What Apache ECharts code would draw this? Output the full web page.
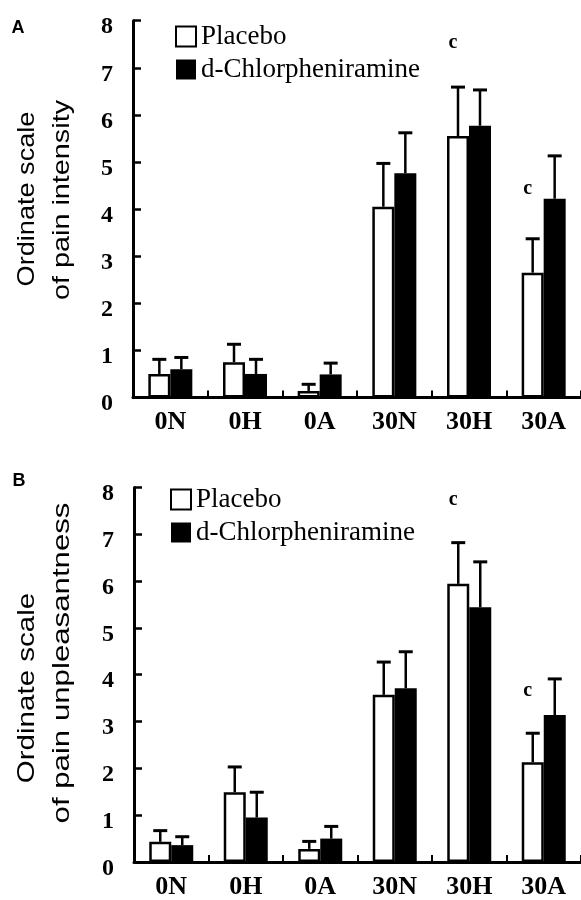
<!DOCTYPE html>
<html>
<head>
<meta charset="utf-8">
<script src="https://cdn.jsdelivr.net/npm/echarts@6/dist/echarts.min.js"></script>
<style>
html,body{margin:0;padding:0;background:#fff;}
#chart{width:581px;height:900px;}
</style>
</head>
<body>
<div id="chart"></div>
<script>
// ---- data ----
const categories = ['0N', '0H', '0A', '30N', '30H', '30A'];
const yTicks = [0, 1, 2, 3, 4, 5, 6, 7, 8];

// Panel A: pain intensity
const placeboA = [0.50, 0.75, 0.14, 4.05, 5.55, 2.65];
const placeboErrA = [0.31, 0.38, 0.14, 0.92, 1.04, 0.72];
const chlorA = [0.60, 0.50, 0.49, 4.76, 5.77, 4.22];
const chlorErrA = [0.25, 0.31, 0.24, 0.86, 0.76, 0.91];
const sigCatsA = ['30H', '30A'];
const sigValsA = [7.52, 4.42];

// Panel B: pain unpleasantness
const placeboB = [0.43, 1.49, 0.28, 3.57, 5.94, 2.13];
const placeboErrB = [0.24, 0.54, 0.16, 0.70, 0.88, 0.62];
const chlorB = [0.36, 0.95, 0.50, 3.71, 5.44, 3.14];
const chlorErrB = [0.18, 0.54, 0.26, 0.78, 0.97, 0.77];
const sigCatsB = ['30H', '30A'];
const sigValsB = [7.73, 3.66];

const seriesNames = ['Placebo', 'd-Chlorpheniramine'];
const sigLetter = 'c';

// ---- styling constants ----
const BAR_W = 22;
const CAP_W = 14;
const SERIF = '"Liberation Serif", "DejaVu Serif", serif';
const SANS = '"Liberation Sans", Arial, sans-serif';

function errData(means, errs) {
  return means.map((m, i) => [i, m, m + errs[i]]);
}
function errRender(sign) {
  return function (params, api) {
    const i = api.value(0);
    const base = api.coord([i, api.value(1)]);
    const hi = api.coord([i, api.value(2)]);
    const x = base[0] + sign * BAR_W / 2;
    return {
      type: 'group',
      children: [
        { type: 'line', shape: { x1: x, y1: base[1], x2: x, y2: hi[1] }, style: { stroke: '#000', lineWidth: 2.5 } },
        { type: 'line', shape: { x1: x - CAP_W / 2, y1: hi[1], x2: x + CAP_W / 2, y2: hi[1] }, style: { stroke: '#000', lineWidth: 3 } }
      ]
    };
  };
}
function sigData(cats, vals) {
  return cats.map((c, k) => [categories.indexOf(c), vals[k]]);
}
function sigRender(params, api) {
  const p = api.coord([api.value(0), api.value(1)]);
  return {
    type: 'text',
    x: p[0] - BAR_W / 2 - 5,
    y: p[1],
    style: { text: sigLetter, fill: '#000', font: 'bold 20px ' + SERIF, align: 'center', verticalAlign: 'middle' }
  };
}

function xAxisCfg(gi) {
  return {
    type: 'category', gridIndex: gi, data: categories,
    axisLine: { lineStyle: { color: '#000', width: 3 } },
    axisTick: { show: true, inside: true, length: 7, lineStyle: { color: '#000', width: 2 } },
    axisLabel: { color: '#000', fontFamily: SERIF, fontWeight: 'bold', fontSize: 26, margin: 12 },
    splitLine: { show: false }
  };
}
function yAxisCfg(gi) {
  return {
    type: 'value', gridIndex: gi, min: yTicks[0], max: yTicks[yTicks.length - 1], interval: 1,
    axisLine: { show: true, lineStyle: { color: '#000', width: 3 } },
    axisTick: { show: true, inside: true, length: 8, lineStyle: { color: '#000', width: 2.5 } },
    axisLabel: {
      margin: 20,
      formatter: '{v|{value}}',
      rich: { v: { color: '#000', fontFamily: SERIF, fontWeight: 'bold', fontSize: 24, padding: [13, 0, 0, 0] } }
    },
    splitLine: { show: false }
  };
}
function barSeries(name, gi, data, white) {
  return {
    name: name, type: 'bar', xAxisIndex: gi, yAxisIndex: gi, data: data,
    barWidth: BAR_W, barGap: '0%',
    itemStyle: white ? { color: '#fff', borderColor: '#000', borderWidth: 2.5 } : { color: '#000', borderColor: '#000', borderWidth: 0 },
    emphasis: { disabled: true }, z: 2
  };
}
function errSeries(gi, means, errs, sign) {
  return {
    type: 'custom', xAxisIndex: gi, yAxisIndex: gi, data: errData(means, errs),
    encode: { x: 0, y: [1, 2] }, renderItem: errRender(sign), z: 3, clip: false, silent: true
  };
}
function sigSeries(gi, cats, vals) {
  return {
    type: 'custom', xAxisIndex: gi, yAxisIndex: gi, data: sigData(cats, vals),
    encode: { x: 0, y: 1 }, renderItem: sigRender, z: 4, clip: false, silent: true
  };
}
function legendCfg(left, top) {
  return {
    orient: 'vertical', left: left, top: top, icon: 'rect', padding: 0,
    itemWidth: 20, itemHeight: 20, itemGap: 6, selectedMode: false,
    data: seriesNames,
    textStyle: { color: '#000', fontFamily: SERIF, fontSize: 27 }
  };
}
function titleText(x, y, text, scale) {
  return {
    type: 'text', x: x, y: y, rotation: Math.PI / 2, scaleX: scale, scaleY: 1,
    style: { text: text, fill: '#000', font: '24px ' + SANS, align: 'center', verticalAlign: 'middle' }
  };
}

const option = {
  animation: false,
  backgroundColor: '#fff',
  grid: [
    { left: 133, top: 20.7, width: 456, height: 376.8 },
    { left: 134, top: 487.4, width: 456, height: 376.6 }
  ],
  xAxis: [xAxisCfg(0), xAxisCfg(1)],
  yAxis: [yAxisCfg(0), yAxisCfg(1)],
  legend: [legendCfg(175, 23), legendCfg(170, 486)],
  series: [
    barSeries(seriesNames[0], 0, placeboA, true),
    barSeries(seriesNames[1], 0, chlorA, false),
    errSeries(0, placeboA, placeboErrA, -1),
    errSeries(0, chlorA, chlorErrA, 1),
    sigSeries(0, sigCatsA, sigValsA),
    barSeries(seriesNames[0], 1, placeboB, true),
    barSeries(seriesNames[1], 1, chlorB, false),
    errSeries(1, placeboB, placeboErrB, -1),
    errSeries(1, chlorB, chlorErrB, 1),
    sigSeries(1, sigCatsB, sigValsB)
  ],
  graphic: [
    { type: 'text', x: 18, y: 28, style: { text: 'A', fill: '#000', font: 'bold 18px ' + SANS, align: 'center', verticalAlign: 'middle' } },
    { type: 'text', x: 19, y: 481, style: { text: 'B', fill: '#000', font: 'bold 18px ' + SANS, align: 'center', verticalAlign: 'middle' } },
    titleText(27, 199, 'Ordinate scale', 1.13),
    titleText(62, 200, 'of pain intensity', 1.2),
    titleText(27, 688, 'Ordinate scale', 1.23),
    titleText(62, 663, 'of pain unpleasantness', 1.3)
  ]
};

const chart = echarts.init(document.getElementById('chart'), null, { renderer: 'canvas' });
chart.setOption(option);
</script>
</body>
</html>
